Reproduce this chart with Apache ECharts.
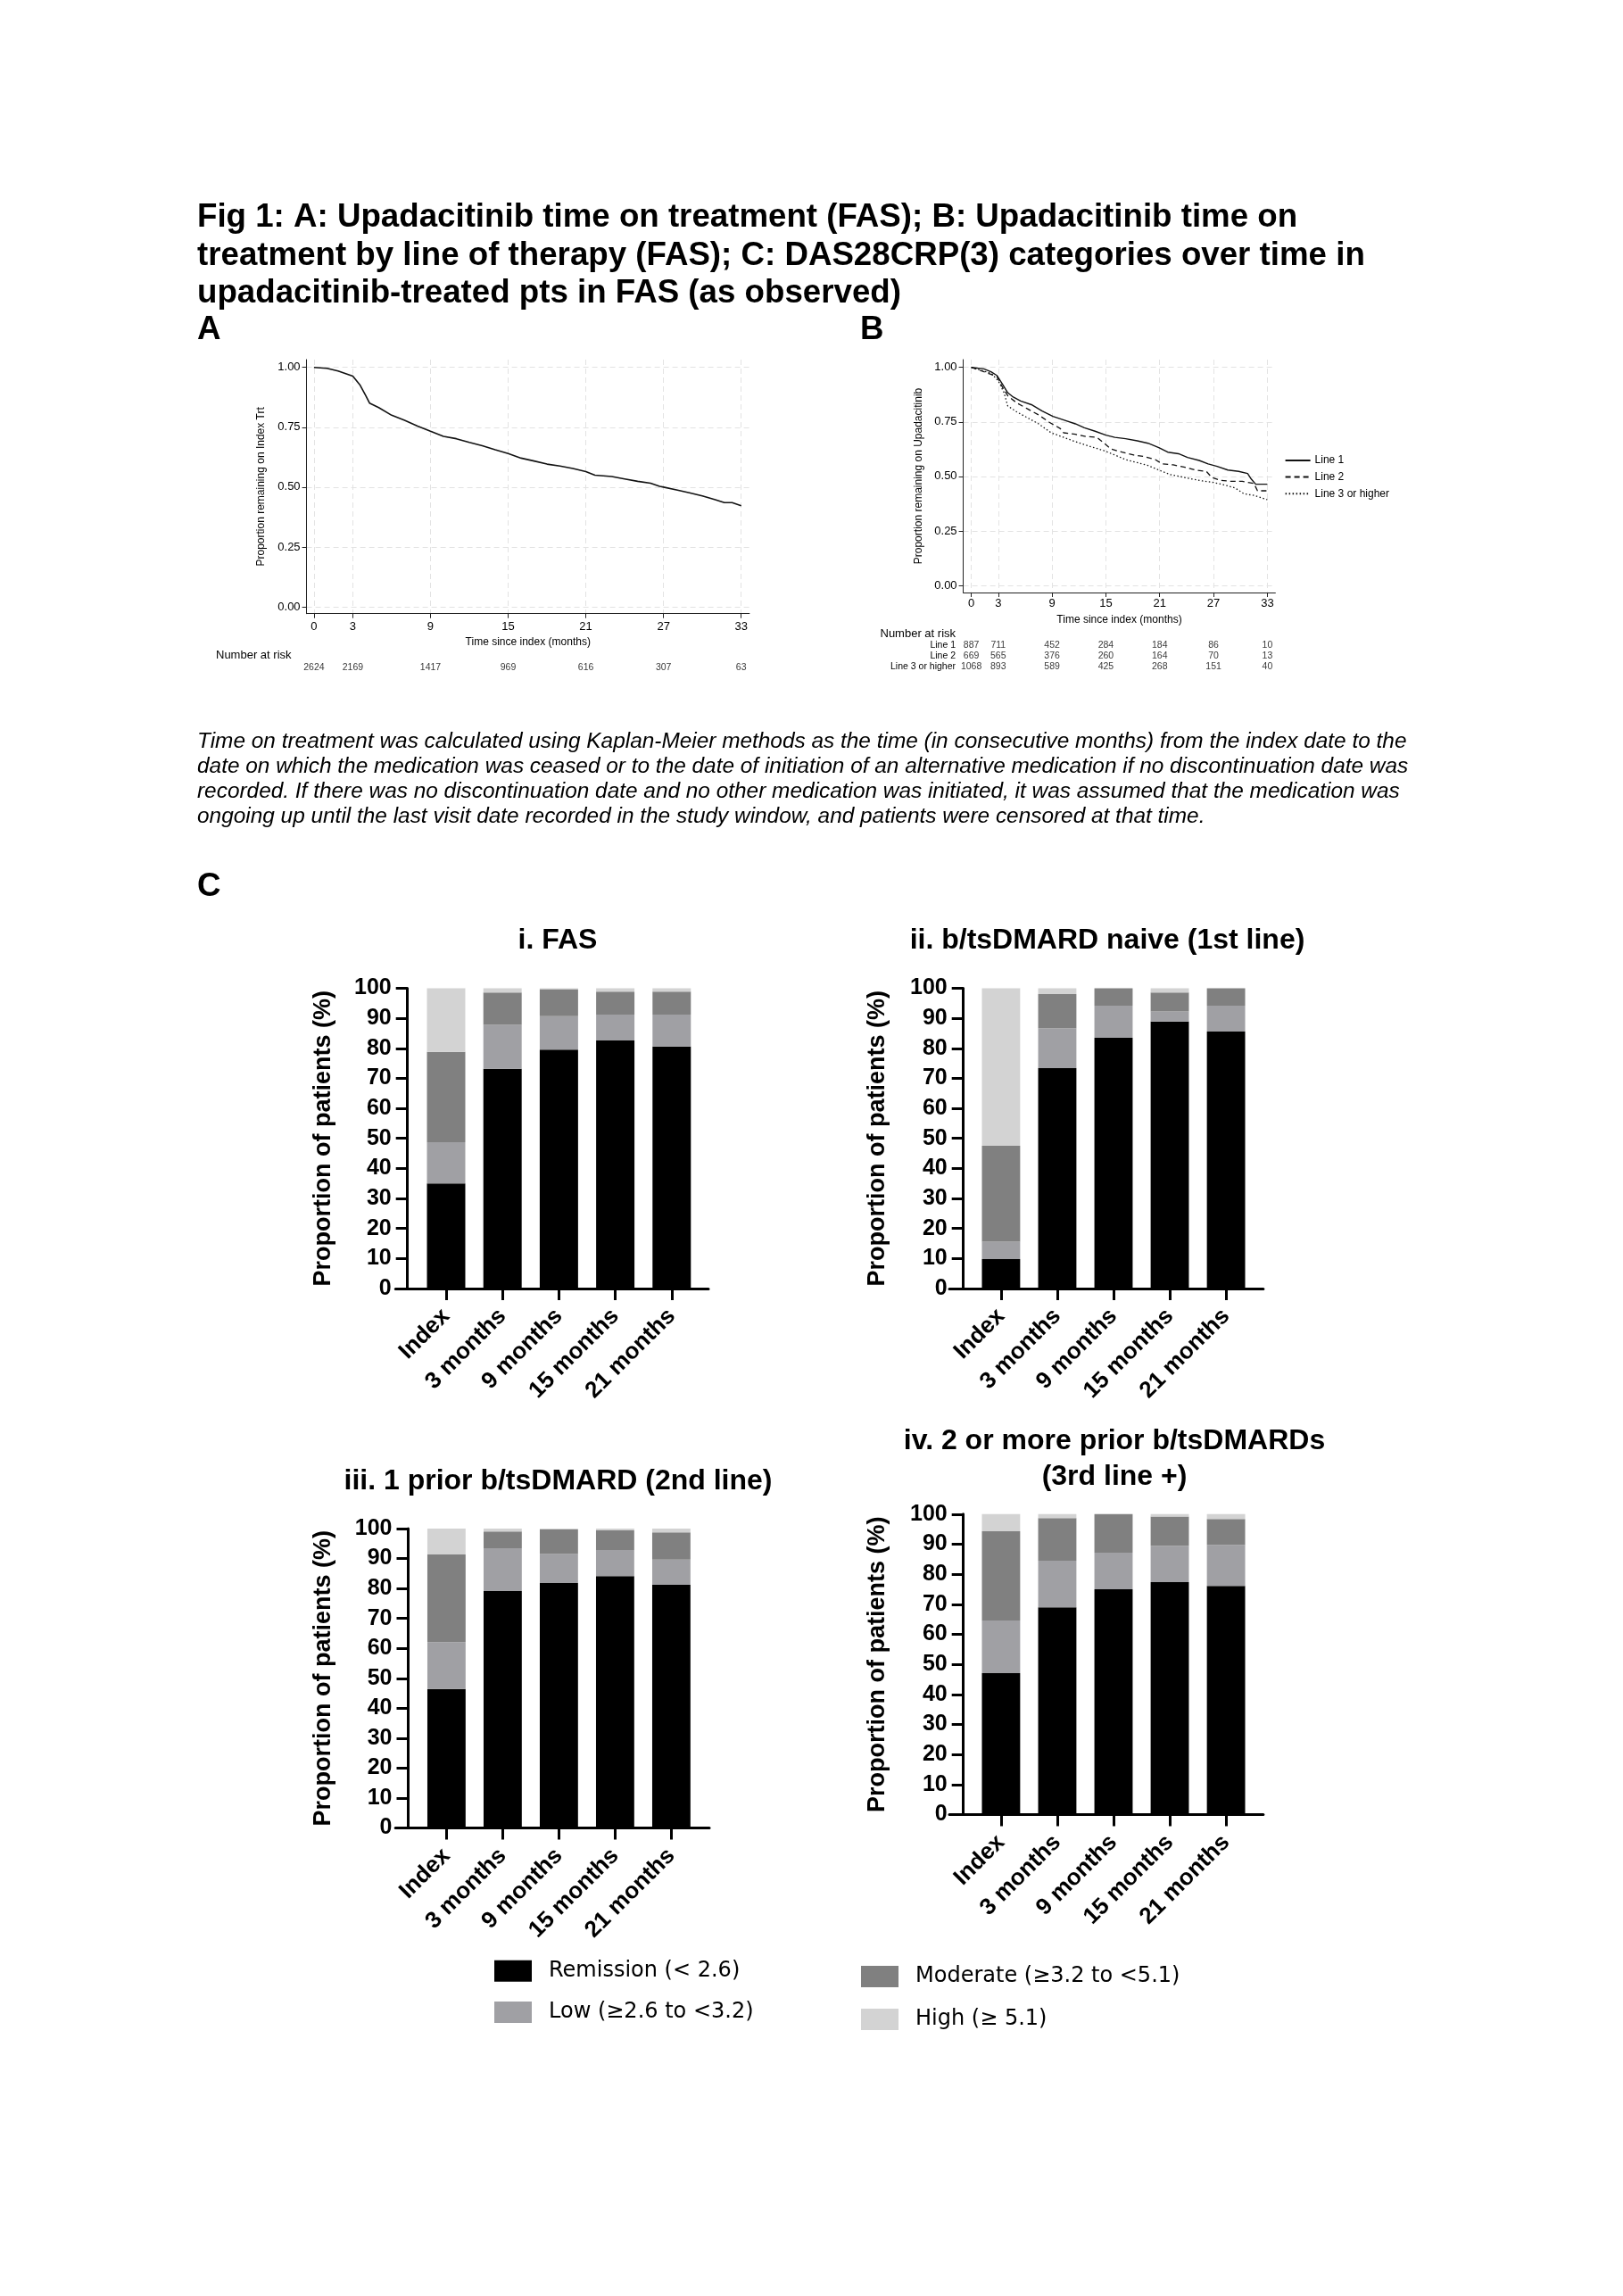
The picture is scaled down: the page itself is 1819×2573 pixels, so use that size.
<!DOCTYPE html>
<html>
<head>
<meta charset="utf-8">
<script src="https://cdn.jsdelivr.net/npm/echarts@6/dist/echarts.min.js"></script>
<style>
html,body{margin:0;padding:0;background:#ffffff;}
#c{width:1819px;height:2573px;}
</style>
</head>
<body>
<div id="c"></div>
<script>
// ---------------- DATA ----------------
const titleLines = [
  'Fig 1: A: Upadacitinib time on treatment (FAS); B: Upadacitinib time on',
  'treatment by line of therapy (FAS); C: DAS28CRP(3) categories over time in',
  'upadacitinib-treated pts in FAS (as observed)'
];
const footLines = [
  'Time on treatment was calculated using Kaplan-Meier methods as the time (in consecutive months) from the index date to the',
  'date on which the medication was ceased or to the date of initiation of an alternative medication if no discontinuation date was',
  'recorded. If there was no discontinuation date and no other medication was initiated, it was assumed that the medication was',
  'ongoing up until the last visit date recorded in the study window, and patients were censored at that time.'
];

// Panel A: Kaplan-Meier, FAS
const kmATime = [0,1,1.86,3,3.57,4,4.29,5,6,7,8,9,10,11,12,13,14,15,16,17,18,19,20,21,21.7,23,24,25,26,26.7,27,28,29,30,31,31.7,32.3,33];
const kmASurv = [1.00,0.996,0.985,0.963,0.925,0.882,0.851,0.832,0.80,0.779,0.755,0.733,0.712,0.702,0.687,0.673,0.656,0.640,0.621,0.609,0.596,0.588,0.578,0.565,0.55,0.544,0.534,0.524,0.516,0.503,0.50,0.488,0.476,0.463,0.447,0.435,0.435,0.422];

// Panel B: Kaplan-Meier by line of therapy
const kmLine1Time = [0,1.4,2.2,2.85,3.45,4.06,4.67,5.5,6.7,7.9,9.1,10.3,11.6,12.6,13.8,15,16,17.2,18.5,19.7,20.9,21.9,23.1,24.1,25.4,26.4,27.4,28.6,29.8,30.8,31.2,31.7,33];
const kmLine1Surv = [1.0,0.993,0.98,0.963,0.925,0.884,0.864,0.846,0.829,0.80,0.775,0.759,0.741,0.723,0.707,0.689,0.679,0.673,0.663,0.652,0.632,0.611,0.604,0.587,0.573,0.557,0.546,0.529,0.523,0.513,0.488,0.464,0.464];
const kmLine2Time = [0,2.85,3.45,4.06,5.1,6.3,7.5,8.7,9.9,10.3,11.6,12.8,14,14.8,15.6,16.8,18.1,19.3,20.5,21.3,22.5,23.7,25,26.2,26.8,27.8,29,30.2,31.5,31.9,33];
const kmLine2Surv = [1.0,0.959,0.911,0.870,0.836,0.809,0.782,0.748,0.72,0.70,0.693,0.683,0.679,0.652,0.625,0.611,0.598,0.591,0.577,0.557,0.553,0.543,0.529,0.523,0.495,0.482,0.477,0.477,0.468,0.434,0.434];
const kmLine3Time = [0,2.2,3.0,3.65,4.06,5.1,6.3,7.5,8.9,10.3,11.6,13.2,14.8,16,17.2,18.5,19.7,20.9,22.1,23.3,24.6,25.8,27,28.2,29.4,30.4,31.5,33];
const kmLine3Surv = [1.0,0.973,0.939,0.884,0.823,0.795,0.768,0.741,0.70,0.679,0.659,0.638,0.618,0.598,0.577,0.563,0.55,0.529,0.509,0.499,0.488,0.479,0.472,0.461,0.447,0.42,0.413,0.393];

const kmTicksX = [0,3,9,15,21,27,33];
const kmTicksY = [0,0.25,0.5,0.75,1];
const riskTimes = [0,3,9,15,21,27,33];
const riskFAS = [2624,2169,1417,969,616,307,63];
const riskLine1 = [887,711,452,284,184,86,10];
const riskLine2 = [669,565,376,260,164,70,13];
const riskLine3 = [1068,893,589,425,268,151,40];
const lineNames = ['Line 1','Line 2','Line 3 or higher'];

// Panel C: DAS28CRP(3) categories (%)
const timepoints = ['Index','3 months','9 months','15 months','21 months'];
const categoryNames = ['Remission (< 2.6)','Low (\u22652.6 to <3.2)','Moderate (\u22653.2 to <5.1)','High (\u2265 5.1)'];
const fasRemission = [35.0,73.2,79.6,82.6,80.6];
const fasLow       = [13.7,14.6,11.1,8.6,10.6];
const fasModerate  = [30.1,10.8,9.0,7.7,7.7];
const fasHigh      = [21.2,1.4,0.3,1.1,1.1];
const naiveRemission = [9.8,73.4,83.5,88.9,85.6];
const naiveLow       = [5.8,13.3,10.7,3.4,8.6];
const naiveModerate  = [31.9,11.4,5.8,6.3,5.8];
const naiveHigh      = [52.5,1.9,0,1.4,0];
const prior1Remission = [46.4,79.1,81.8,84.1,81.2];
const prior1Low       = [15.7,14.3,9.7,8.7,8.4];
const prior1Moderate  = [29.2,5.6,8.2,6.6,9.1];
const prior1High      = [8.7,1.0,0.3,0.6,1.3];
const prior2Remission = [47.1,69.0,75.0,77.4,76.1];
const prior2Low       = [17.5,15.5,12.2,12.1,13.7];
const prior2Moderate  = [29.7,14.2,12.8,9.7,8.6];
const prior2High      = [5.7,1.3,0,0.8,1.6];

// ---------------- STYLE / LAYOUT ----------------
const F = '"Liberation Sans", Arial, Helvetica, sans-serif';
const categoryColors = ['#000000','#a0a0a4','#808080','#d3d3d3'];

const barPanels = [
  {title:'i. FAS', tx:625, ttop:1035, lh:38, grid:{left:468.4, top:1107.5, width:316, height:336.4}, axisX:456.7, line:[443.3,794], nameGap:81,
   data:[fasRemission,fasLow,fasModerate,fasHigh]},
  {title:'ii. b/tsDMARD naive (1st line)', tx:1241, ttop:1035, lh:38, grid:{left:1090.4, top:1107.5, width:315.2, height:336.4}, axisX:1079.7, line:[1064,1415.9], nameGap:83,
   data:[naiveRemission,naiveLow,naiveModerate,naiveHigh]},
  {title:'iii. 1 prior b/tsDMARD (2nd line)', tx:625.5, ttop:1641, lh:38, grid:{left:468.9, top:1712.9, width:315, height:335.7}, axisX:457.5, line:[443.2,795], nameGap:81,
   data:[prior1Remission,prior1Low,prior1Moderate,prior1High]},
  {title:'iv. 2 or more prior b/tsDMARDs\n(3rd line +)', tx:1249, ttop:1596, lh:39.3, grid:{left:1090.4, top:1696.8, width:315.2, height:336.8}, axisX:1079.7, line:[1064,1415.9], nameGap:83,
   data:[prior2Remission,prior2Low,prior2Moderate,prior2High]}
];

const grids = [];
const xAxes = [];
const yAxes = [];
const series = [];
const titles = [];

function txt(text, left, top, size, extra) {
  return {
    text: text, left: left, top: top, padding: 0, itemGap: 0,
    textStyle: Object.assign({fontFamily: F, fontSize: size, fontWeight: 'bold', color: '#000', lineHeight: size * 1.2}, extra || {})
  };
}

// Text blocks
titles.push(txt(titleLines.join('\n'), 221, 222.7, 36.7, {lineHeight: 42.6}));
titles.push(txt('A', 221, 349, 36.7, {lineHeight: 42}));
titles.push(txt('B', 964, 349, 36.7, {lineHeight: 42}));
titles.push(txt(footLines.join('\n'), 221, 817, 24.4, {fontWeight: 'normal', fontStyle: 'italic', lineHeight: 28}));
titles.push(txt('C', 221, 973, 36.7, {lineHeight: 42}));
titles.push(txt('Number at risk', 242, 726, 13, {fontWeight: 'normal', lineHeight: 16}));
titles.push(txt('Number at risk', 986.5, 702, 13, {fontWeight: 'normal', lineHeight: 16}));

// ---------- KM axes helper ----------
function kmAxes(gridIdx, xmin, xmax, ymin, ymax, yName, yGap, xGap, xLabMargin) {
  xAxes.push({
    gridIndex: gridIdx, type: 'value', min: xmin, max: xmax,
    name: 'Time since index (months)', nameLocation: 'middle', nameGap: xGap,
    nameTextStyle: {fontFamily: F, fontSize: 12, color: '#000', lineHeight: 12, verticalAlign: 'top'},
    axisLine: {show: true, onZero: false, lineStyle: {color: '#222', width: 1}},
    axisTick: {show: true, length: 5, customValues: kmTicksX, lineStyle: {color: '#222', width: 1}},
    axisLabel: {customValues: kmTicksX, fontFamily: F, fontSize: 13, color: '#000', margin: xLabMargin},
    splitLine: {show: true, lineStyle: {color: '#e3e3e3', type: [6, 4], width: 1}}
  });
  yAxes.push({
    gridIndex: gridIdx, type: 'value', min: ymin, max: ymax,
    name: yName, nameLocation: 'middle', nameRotate: 90, nameGap: yGap,
    nameTextStyle: {fontFamily: F, fontSize: 12, color: '#000', lineHeight: 12},
    axisLine: {show: true, onZero: false, lineStyle: {color: '#222', width: 1}},
    axisTick: {show: true, length: 5, customValues: kmTicksY, lineStyle: {color: '#222', width: 1}},
    axisLabel: {customValues: kmTicksY, fontFamily: F, fontSize: 13, color: '#000', margin: 7,
      formatter: v => Number(v).toFixed(2)},
    splitLine: {show: true, lineStyle: {color: '#e3e3e3', type: [6, 4], width: 1}}
  });
}

// Grid 0: KM A
grids.push({left: 343.6, top: 403, width: 496.3, height: 284.7, outerBoundsMode: 'none'});
kmAxes(0, -0.572, 33.634, -0.0287, 1.0324, 'Proportion remaining on Index Trt', 45, 26, 8.5);
series.push({type: 'line', name: 'FAS', xAxisIndex: 0, yAxisIndex: 0, symbol: 'none', silent: true,
  data: kmATime.map((t, i) => [t, kmASurv[i]]), itemStyle: {color: '#111'}, lineStyle: {color: '#111', width: 1.6}});

// Grid 1: risk table A
grids.push({left: 343.6, top: 742.3, width: 496.3, height: 12, outerBoundsMode: 'none'});
xAxes.push({gridIndex: 1, type: 'value', min: -0.572, max: 33.634, show: false});
yAxes.push({gridIndex: 1, type: 'category', data: ['FAS'], show: false});
series.push({type: 'scatter', name: 'riskFAS', xAxisIndex: 1, yAxisIndex: 1, symbolSize: 1, silent: true,
  itemStyle: {color: 'rgba(0,0,0,0)'},
  data: riskTimes.map((t, i) => [t, 'FAS', riskFAS[i]]),
  label: {show: true, position: 'inside', formatter: p => String(p.value[2]), fontFamily: F, fontSize: 10.5, color: '#000'}});

// Grid 2: KM B
grids.push({left: 1079.6, top: 403, width: 349.8, height: 261, outerBoundsMode: 'none'});
kmAxes(2, -0.895, 33.895, -0.0327, 1.0356, 'Proportion remaining on Upadacitinib', 43.6, 25, 6);
const kmB = [[kmLine1Time, kmLine1Surv, 'solid', 1.4], [kmLine2Time, kmLine2Surv, [6, 4], 1.3], [kmLine3Time, kmLine3Surv, [1.5, 2.5], 1.3]];
kmB.forEach((d, k) => {
  series.push({type: 'line', name: lineNames[k], xAxisIndex: 2, yAxisIndex: 2, symbol: 'none', silent: true,
    data: d[0].map((t, i) => [t, d[1][i]]), itemStyle: {color: '#111'}, lineStyle: {color: '#111', width: d[3], type: d[2]}});
});

// Grid 3: risk table B
grids.push({left: 1079.6, top: 717.3, width: 349.8, height: 36, outerBoundsMode: 'none'});
xAxes.push({gridIndex: 3, type: 'value', min: -0.895, max: 33.895, show: false});
yAxes.push({gridIndex: 3, type: 'category', data: lineNames, inverse: true,
  axisLine: {show: false}, axisTick: {show: false}, splitLine: {show: false},
  axisLabel: {interval: 0, hideOverlap: false, fontFamily: F, fontSize: 10.5, color: '#000', margin: 8.6}});
[riskLine1, riskLine2, riskLine3].forEach((arr, k) => {
  series.push({type: 'scatter', name: 'risk' + k, xAxisIndex: 3, yAxisIndex: 3, symbolSize: 1, silent: true,
    itemStyle: {color: 'rgba(0,0,0,0)'},
    data: riskTimes.map((t, i) => [t, lineNames[k], arr[i]]),
    label: {show: true, position: 'inside', formatter: p => String(p.value[2]), fontFamily: F, fontSize: 10.5, color: '#000'}});
});

// ---------- Bar panels ----------
barPanels.forEach((p, k) => {
  const g = grids.length;
  grids.push(Object.assign({outerBoundsMode: 'none'}, p.grid));
  xAxes.push({
    gridIndex: g, type: 'category', data: timepoints,
    axisLine: {show: true, onZero: false, lineStyle: {color: '#000', width: 3}},
    axisTick: {show: true, alignWithLabel: true, length: 13, lineStyle: {color: '#000', width: 3}},
    axisLabel: {interval: 0, rotate: 45, margin: 27, fontFamily: F, fontSize: 26, fontWeight: 'bold', color: '#000'},
    splitLine: {show: false}
  });
  yAxes.push({
    gridIndex: g, type: 'value', min: 0, max: 100, interval: 10, offset: p.grid.left - p.axisX,
    name: 'Proportion of patients (%)', nameLocation: 'middle', nameRotate: 90, nameGap: p.nameGap,
    nameTextStyle: {fontFamily: F, fontSize: 27, fontWeight: 'bold', color: '#000', lineHeight: 27},
    axisLine: {show: true, lineStyle: {color: '#000', width: 3}},
    axisTick: {show: true, length: 13, lineStyle: {color: '#000', width: 3}},
    axisLabel: {fontFamily: F, fontSize: 25, fontWeight: 'bold', color: '#000', margin: 18},
    splitLine: {show: false}
  });
  p.data.forEach((arr, c) => {
    series.push({type: 'bar', name: categoryNames[c], xAxisIndex: g, yAxisIndex: g, stack: 'panel' + k,
      barWidth: p.grid.width / 5 * 0.68, silent: true, data: arr,
      itemStyle: {color: categoryColors[c]}});
  });
  const t = txt(p.title, p.tx, p.ttop, 32, {lineHeight: p.lh, align: 'center'});
  t.textAlign = 'center';
  titles.push(t);
});

// Axis-line extensions (base line reaching past the y axis, as in the original)
barPanels.forEach((p) => {
  const g = grids.length;
  grids.push({left: p.line[0], width: p.line[1] - p.line[0], top: p.grid.top, height: p.grid.height, outerBoundsMode: 'none'});
  xAxes.push({gridIndex: g, type: 'value', min: 0, max: 1,
    axisLine: {show: true, onZero: false, lineStyle: {color: '#000', width: 3}},
    axisTick: {show: false}, axisLabel: {show: false}, splitLine: {show: false}});
  yAxes.push({gridIndex: g, type: 'value', min: 0, max: 1, show: false});
});

const legendText = {fontFamily: '"DejaVu Sans", sans-serif', fontSize: 24, color: '#000', padding: [0, 0, 0, 14]};
const option = {
  backgroundColor: '#ffffff',
  animation: false,
  title: titles,
  legend: [
    {data: lineNames, orient: 'vertical', left: 1439.6, top: 510, itemWidth: 28, itemHeight: 12, itemGap: 6.6,
     padding: 0, selectedMode: false, itemStyle: {opacity: 0},
     textStyle: {fontFamily: F, fontSize: 12, color: '#000'}},
    {data: categoryNames.slice(0, 2), orient: 'vertical', left: 554, top: 2196.7, itemWidth: 42, itemHeight: 24, itemGap: 22.3,
     padding: 0, selectedMode: false, icon: 'rect', textStyle: legendText},
    {data: categoryNames.slice(2, 4), orient: 'vertical', left: 965, top: 2203, itemWidth: 42, itemHeight: 24, itemGap: 24,
     padding: 0, selectedMode: false, icon: 'rect', textStyle: legendText}
  ],
  grid: grids,
  xAxis: xAxes,
  yAxis: yAxes,
  series: series
};

const chart = echarts.init(document.getElementById('c'), null, {renderer: 'canvas', width: 1819, height: 2573});
chart.setOption(option);
</script>
</body>
</html>
